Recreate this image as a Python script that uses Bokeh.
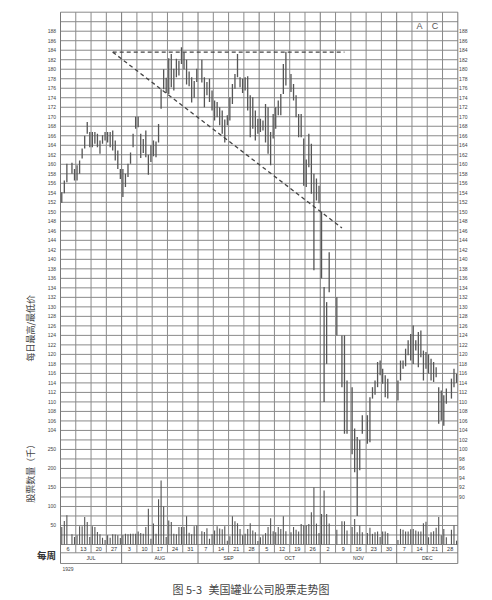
import datetime as dt
from math import pi
from bokeh.plotting import figure
from bokeh.models import Range1d, ColumnDataSource
from bokeh.core.properties import value
from bokeh.embed import file_html
from bokeh.resources import INLINE

# ---------------- data ----------------
week_labels = ["6", "13", "20", "27", "3", "10", "17", "24", "31", "7", "14", "21", "28",
               "5", "12", "19", "26", "2", "9", "16", "23", "30", "7", "14", "21", "28"]
month_labels = ["JUL", "AUG", "SEP", "OCT", "NOV", "DEC"]
weeks_per_month = [4, 5, 4, 4, 5, 4]
first_monday = "1929-07-01"
closed_days = ["1929-07-04", "1929-09-02", "1929-10-12", "1929-11-01", "1929-11-02",
               "1929-11-05", "1929-11-09", "1929-11-16", "1929-11-28", "1929-11-29",
               "1929-11-30", "1929-12-25"]

highs = [
    154.1, 156.6, 160.1, 160.3, 159.0,
    159.8, 160.8, 163.3, 166.0, 168.9, 166.8,
    166.8, 166.8, 166.4, 165.0, 166.1, 166.8,
    166.8, 166.8, 167.1, 165.0, 162.9, 159.0,
    159.0, 158.0, 160.1, 162.5, 166.4, 170.0,
    170.0, 166.4, 165.3, 167.1, 162.0, 164.0,
    165.0, 164.8, 168.5, 175.8, 180.0, 178.2,
    182.3, 183.2, 180.1, 182.2, 181.8, 184.6,
    183.5, 182.0, 179.5, 178.3, 177.5, 180.1,
    182.0, 178.3, 177.3, 178.0, 175.5,
    173.4, 173.1, 172.0, 171.3, 169.4, 170.3,
    174.1, 176.9, 179.0, 183.2, 178.3, 178.0,
    178.3, 178.5, 174.5, 174.1, 171.3, 169.6,
    169.6, 169.2, 172.7, 172.0, 166.8, 170.6,
    172.0, 173.4, 174.8, 181.1, 183.7,
    179.0, 176.9, 174.5, 170.6, 170.6, 165.4,
    161.0, 166.4, 164.3, 158.0, 157.0, 155.5,
    150.0, 134.2, 131.0, 141.5,
    132.0, 124.0, 124.0, 114.5,
    113.1, 104.4, 102.6, 102.0, 107.2,
    107.2, 111.0, 113.1, 114.5, 118.4, 118.7,
    117.0, 115.6, 114.9,
    114.5, 118.7, 118.7, 121.2, 123.0, 124.3,
    126.1, 123.0, 124.7, 125.0, 120.8, 120.5,
    120.0, 119.1, 118.4, 117.3, 113.1, 112.4,
    111.4, 112.8, 114.9, 117.0, 115.9,
]
lows = [
    151.9, 153.9, 156.2, 158.0, 156.6,
    156.6, 158.0, 161.2, 163.3, 166.4, 163.6,
    163.6, 164.3, 163.6, 162.2, 164.3, 165.0,
    164.6, 163.6, 162.9, 160.8, 159.0, 156.9,
    153.1, 155.2, 157.3, 160.1, 163.6, 167.5,
    167.8, 161.3, 162.4, 161.5, 157.8, 160.5,
    161.7, 161.5, 164.6, 171.7, 175.8, 175.0,
    174.8, 176.2, 175.5, 178.3, 178.7, 181.1,
    180.0, 176.8, 176.4, 173.0, 174.0, 177.3,
    177.2, 172.0, 174.5, 173.1, 171.3,
    169.2, 169.9, 168.2, 166.4, 164.6, 168.2,
    169.2, 172.7, 175.9, 178.3, 176.2, 175.0,
    175.5, 171.3, 165.7, 167.5, 165.0, 166.4,
    166.8, 167.1, 164.6, 162.2, 159.8, 165.4,
    167.5, 170.3, 170.3, 174.8, 176.6,
    175.2, 173.4, 169.9, 165.7, 165.7, 155.5,
    155.2, 159.4, 153.8, 137.7, 152.4, 151.8,
    136.0, 110.0, 118.0, 133.1,
    124.0, 113.1, 103.3, 103.3,
    99.0, 95.2, 86.0, 95.6, 103.3,
    101.2, 101.5, 110.7, 111.5, 113.1, 115.6,
    113.8, 111.0, 110.7,
    110.3, 114.5, 117.0, 117.5, 119.8, 118.7,
    118.0, 120.8, 117.3, 119.4, 114.5, 117.0,
    116.0, 114.5, 114.2, 115.2, 105.4, 106.1,
    105.0, 109.6, 110.7, 113.1, 114.0,
]
volumes = [
    46, 62, 77, 27, 20,
    24, 48, 48, 72, 59, 20,
    48, 46, 33, 27, 18, 12,
    24, 18, 27, 26, 24, 17,
    24, 28, 27, 28, 28, 28,
    34, 30, 28, 46, 94, 15,
    55, 28, 119, 168, 100, 20,
    63, 59, 28, 27, 46, 46,
    46, 74, 31, 27, 48, 50,
    35, 33, 43, 15, 27,
    37, 48, 42, 40, 48, 10,
    22, 74, 61, 56, 41, 24,
    28, 41, 56, 37, 32, 9,
    19, 24, 30, 46, 69, 35,
    32, 46, 41, 74, 35,
    32, 46, 39, 34, 54, 50,
    50, 54, 85, 150, 55, 30,
    80, 142, 80, 55,
    39, 61, 61, 37,
    46, 67, 32, 50, 32,
    30, 44, 28, 32, 34, 20,
    34, 34, 30,
    12, 41, 39, 34, 34, 40,
    41, 37, 34, 34, 56, 60,
    19, 32, 35, 44, 72, 24,
    41, 19, 39, 50, 10,
]
price_ticks_left = list(range(188, 103, -2))
price_ticks_right = list(range(188, 89, -2))
volume_ticks = [250, 200, 150, 100, 50]
trend_dates = ["1929-07-24", "1929-11-07", "1929-11-06"]
trend_prices = [183.6, 183.6, 146.6]

# ---------------- layout constants ----------------
W, H = 492, 598
PXW = 15.281          # px per week column
PXP = 4.7526          # px per price unit
BOX_LEFT_PX = 60      # grid box left edge inside the canvas
BOX_TOP_PX = 11.7     # grid box top edge inside the canvas
y_lo, y_hi = 76.0, 192.0      # grid box in price units
vol_base = 80.0               # price level of volume zero
vol_per_unit = 12.5           # thousand shares per price unit
row_split = 78.25             # week row / month row border

# ---------------- derived positions ----------------
start = dt.date.fromisoformat(first_monday)
closed = {dt.date.fromisoformat(d) for d in closed_days}
n_weeks = len(week_labels)
trading = []
for i in range(n_weeks * 7):
    d = start + dt.timedelta(days=i)
    if d.weekday() < 6 and d not in closed:
        trading.append(d)

def xpos(d):
    k = (d - start).days
    return k // 7 + (k % 7 + 0.5) / 6.0

xs = [xpos(d) for d in trading]
assert len(xs) == len(highs) == len(lows) == len(volumes)

x0 = -BOX_LEFT_PX / PXW
x1 = x0 + W / PXW
y1 = y_hi + BOX_TOP_PX / PXP
y0 = y1 - H / PXP

p = figure(width=W, height=H, x_range=Range1d(x0, x1), y_range=Range1d(y0, y1),
           x_axis_type=None, y_axis_type=None, output_backend="svg", toolbar_location=None,
           min_border=0, outline_line_color=None,
           background_fill_color="white", border_fill_color="white")
p.extra_y_ranges = {"vol": Range1d((y0 - vol_base) * vol_per_unit, (y1 - vol_base) * vol_per_unit)}

grid_color = "#8a8a8a"
# horizontal grid lines
hy = list(range(int(vol_base), int(y_hi) + 1, 2)) + [row_split, y_lo]
p.segment(x0=[0] * len(hy), y0=hy, x1=[n_weeks] * len(hy), y1=hy,
          line_color=grid_color, line_width=1)
# month boundaries (full height) and box sides
month_bounds = [0]
for w in weeks_per_month:
    month_bounds.append(month_bounds[-1] + w)
p.segment(x0=month_bounds, y0=[y_lo] * len(month_bounds), x1=month_bounds,
          y1=[y_hi] * len(month_bounds), line_color="#777777", line_width=1)
# week boundaries down to the week row
wb = [w for w in range(1, n_weeks) if w not in month_bounds]
p.segment(x0=wb, y0=[row_split] * len(wb), x1=wb, y1=[y_hi] * len(wb),
          line_color=grid_color, line_width=1)

# price bars
src = ColumnDataSource(dict(x=xs, hi=highs, lo=lows, vol=volumes, zero=[0] * len(xs)))
p.segment(x0="x", y0="lo", x1="x", y1="hi", source=src, line_color="#555555", line_width=1.3)
# volume bars
p.segment(x0="x", y0="zero", x1="x", y1="vol", source=src, y_range_name="vol",
          line_color="#555555", line_width=1.1)

# trend lines
tx = [xpos(dt.date.fromisoformat(d)) for d in trend_dates]
p.line(x=[tx[0], tx[1]], y=[trend_prices[0], trend_prices[1]], line_color="#444444",
       line_width=1.3, line_dash="4 3")
p.line(x=[tx[0], tx[2]], y=[trend_prices[0], trend_prices[2]], line_color="#444444",
       line_width=1.3, line_dash="4 3")

num_font = "Liberation Sans"
cjk = "Noto Sans CJK SC"

# tick labels (left: price and volume, right: price)
vol_pos = [vol_base + v / vol_per_unit for v in volume_ticks]
left_y = price_ticks_left + vol_pos
left_t = [str(v) for v in price_ticks_left] + [str(v) for v in volume_ticks]
p.text(x=[-4.5 / PXW] * len(left_y), y=left_y, text=left_t, text_font=value(num_font),
       text_font_size="5px", text_color="#444444", text_align="right", text_baseline="middle")
p.text(x=[n_weeks + 1.3 / PXW] * len(price_ticks_right), y=price_ticks_right,
       text=[str(v) for v in price_ticks_right], text_font=value(num_font),
       text_font_size="5px", text_color="#444444", text_align="left", text_baseline="middle")

# week and month labels
wx = [i + 0.5 for i in range(n_weeks)]
p.text(x=wx, y=[(vol_base + row_split) / 2] * n_weeks, text=week_labels,
       text_font=value(num_font), text_font_size="5.5px", text_color="#333333",
       text_align="center", text_baseline="middle")
mx = [(a + b) / 2 for a, b in zip(month_bounds[:-1], month_bounds[1:])]
p.text(x=mx, y=[(row_split + y_lo) / 2] * len(mx), text=month_labels,
       text_font=value(num_font), text_font_size="5px", text_color="#333333",
       text_align="center", text_baseline="middle")

# "A C"
p.text(x=[23.5, 24.5], y=[189.0, 189.0], text=["A", "C"], text_font=value(num_font),
       text_font_size="9px", text_color="#555555", text_align="center", text_baseline="middle")

# axis titles and captions
p.text(x=[-30 / PXW], y=[125.5], text=["每日最高/最低价"], angle=pi / 2, text_align="center",
       text_baseline="middle", text_font=value(cjk), text_font_size="9px", text_color="#444444")
p.text(x=[-30 / PXW], y=[95.4], text=["股票数量（千）"], angle=pi / 2, text_align="center",
       text_baseline="middle", text_font=value(cjk), text_font_size="9px", text_color="#444444")
p.text(x=[-14 / PXW], y=[77.7], text=["每周"], text_align="center", text_baseline="middle",
       text_font=value(cjk), text_font_size="9.5px", text_font_style="bold", text_color="#333333")
p.text(x=[2 / PXW], y=[y_lo - 5 / PXP], text=["1929"], text_align="left", text_baseline="middle",
       text_font=value(num_font), text_font_size="5px", text_color="#444444")
p.text(x=[112 / PXW, 148 / PXW], y=[y_lo - 25 / PXP] * 2, text=["图 5-3", "美国罐业公司股票走势图"],
       text_align="left", text_baseline="middle", text_font=value(cjk),
       text_font_size="11px", text_color="#444444")

open("out.html", "w").write(file_html(p, INLINE))
